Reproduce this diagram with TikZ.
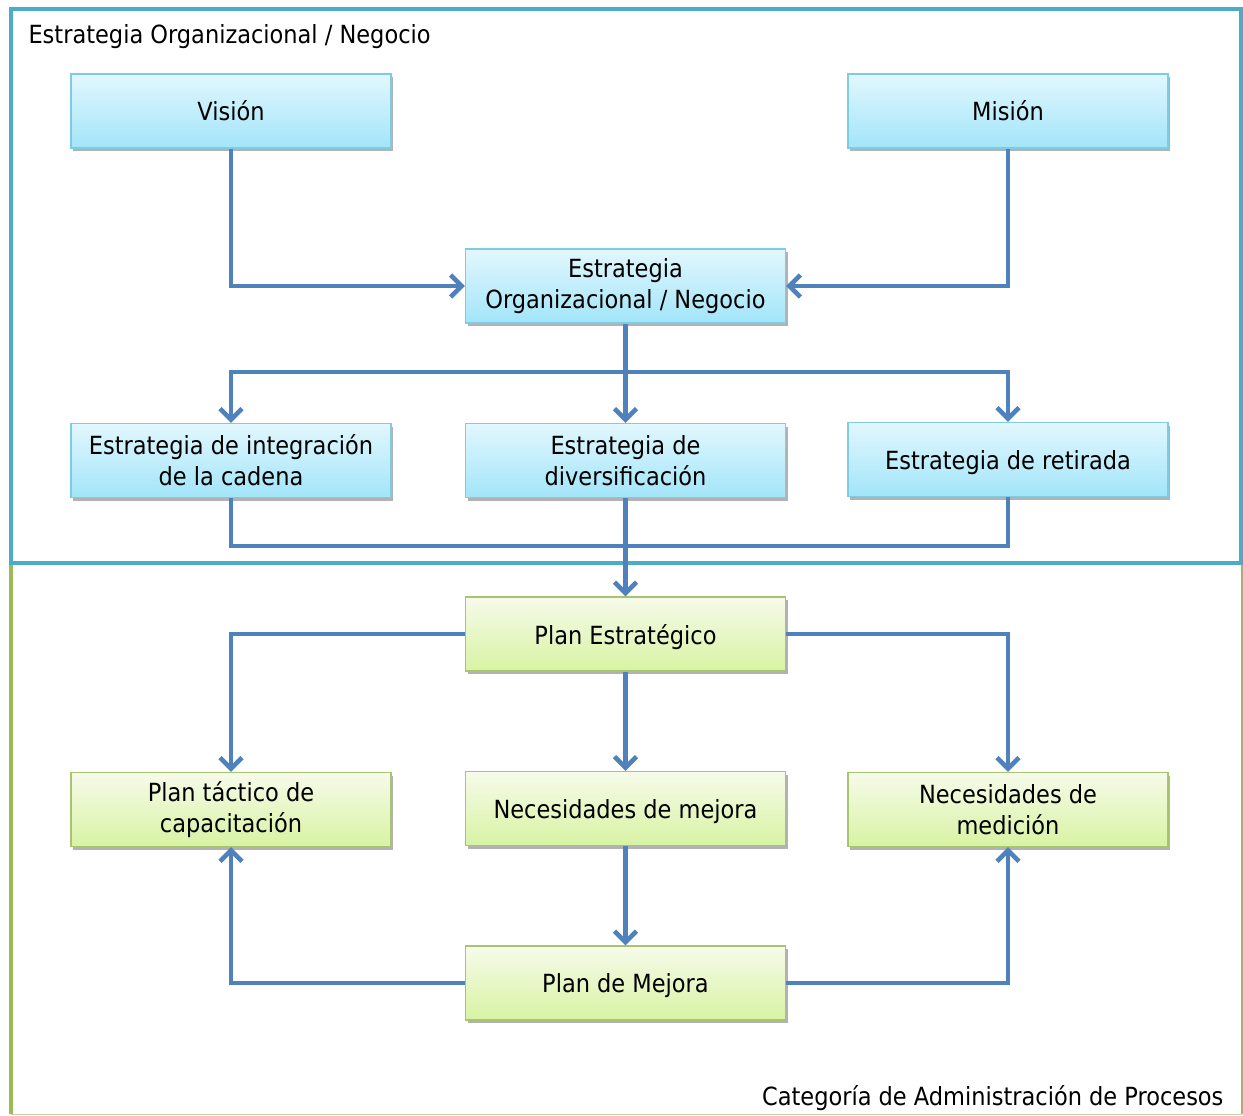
\documentclass[tikz,border=0pt]{standalone}
\usepackage{fontspec}
\setmainfont{DejaVu Sans Condensed}
\usetikzlibrary{arrows.meta,shadows,positioning}
\definecolor{frameblue}{HTML}{4BACC6}
\definecolor{framegreen}{HTML}{9BBB59}
\definecolor{linkblue}{HTML}{4F81BD}
\definecolor{bluetop}{HTML}{E2F7FE}
\definecolor{bluebot}{HTML}{A2E5F9}
\definecolor{blueedge}{HTML}{7ECCE3}
\definecolor{greentop}{HTML}{F6FBEA}
\definecolor{greenbot}{HTML}{D8F3A3}
\definecolor{greenedge}{HTML}{A8C46E}
% lower a single line of text without changing its declared size
\newcommand{\lowered}[1]{\raisebox{-3pt}[\height][\depth]{#1}}
\begin{document}
\begin{tikzpicture}[x=1pt,y=-1pt,
  every node/.style={font=\fontsize{25}{31}\selectfont},
  box/.style={minimum width=320pt,minimum height=74pt,align=center,inner sep=0pt,
    line width=1.2pt,
    drop shadow={shadow xshift=2pt,shadow yshift=-3pt,opacity=0.3,fill=black}},
  bluebox/.style={box,draw=blueedge,top color=bluetop,bottom color=bluebot},
  greenbox/.style={box,draw=greenedge,top color=greentop,bottom color=greenbot},
  link/.style={draw=linkblue,line width=4.6pt,line join=miter},
  conn/.style={link,-{Straight Barb[length=11pt,width=22pt,line width=4.6pt]}}
]
\useasboundingbox (0,0) rectangle (1243,1116);
\fill[white] (0,0) rectangle (1243,1116);

% section frames
\draw[framegreen,line width=3.5pt] (11,563) -- (11,1114);
\draw[framegreen!60,line width=1.5pt] (11,1114.5) -- (1241.5,1114.5);
\draw[framegreen,line width=2pt] (1241.5,563) -- (1241.5,1114);
\draw[frameblue,line width=4pt] (11,9) rectangle (1241,563);

\node[anchor=west] (ttop) at (25,37) {Estrategia Organizacional / Negocio};
\node[anchor=east] (tbot) at (1227,1098) {Categoría de Administración de Procesos};

% strategy boxes
\node[bluebox] (vis) at (231,111) {Visión};
\node[bluebox] (mis) at (1008,111) {Misión};
\node[bluebox] (org) at (625.5,286) {Estrategia\\Organizacional / Negocio};
\node[bluebox] (ei) at (231,460.5) {Estrategia de integración\\de la cadena};
\node[bluebox] (ed) at (625.5,460.5) {Estrategia de\\diversificación};
\node[bluebox] (er) at (1008,459.5) {\lowered{Estrategia de retirada}};

% process boxes
\node[greenbox] (pe) at (625.5,634) {\lowered{Plan Estratégico}};
\node[greenbox] (pt) at (231,809.5) {Plan táctico de\\capacitación};
\node[greenbox] (nme) at (625.5,808.5) {\lowered{Necesidades de mejora}};
\node[greenbox] (nm) at (1008,809.5) {Necesidades de\\medición};
\node[greenbox] (pm) at (625.5,983) {\lowered{Plan de Mejora}};

\coordinate (split) at (625.5,372);
\coordinate (merge) at (625.5,546);

% connectors
\draw[conn] (vis.south) |- (org.west);
\draw[conn] (mis.south) |- (org.east);
\draw[link] (org.south) -- (split);
\draw[conn] (split) -| (ei.north);
\draw[conn] (split) -| (er.north);
\draw[conn] (split) -- (ed.north);
\draw[link] (ei.south) |- (merge);
\draw[link] (er.south) |- (merge);
\draw[conn] (ed.south) -- (pe.north);
\draw[conn] (pe.west) -| (pt.north);
\draw[conn] (pe.east) -| (nm.north);
\draw[conn] (pe.south) -- (nme.north);
\draw[conn] (nme.south) -- (pm.north);
\draw[conn] (pm.west) -| (pt.south);
\draw[conn] (pm.east) -| (nm.south);
\end{tikzpicture}
\end{document}
